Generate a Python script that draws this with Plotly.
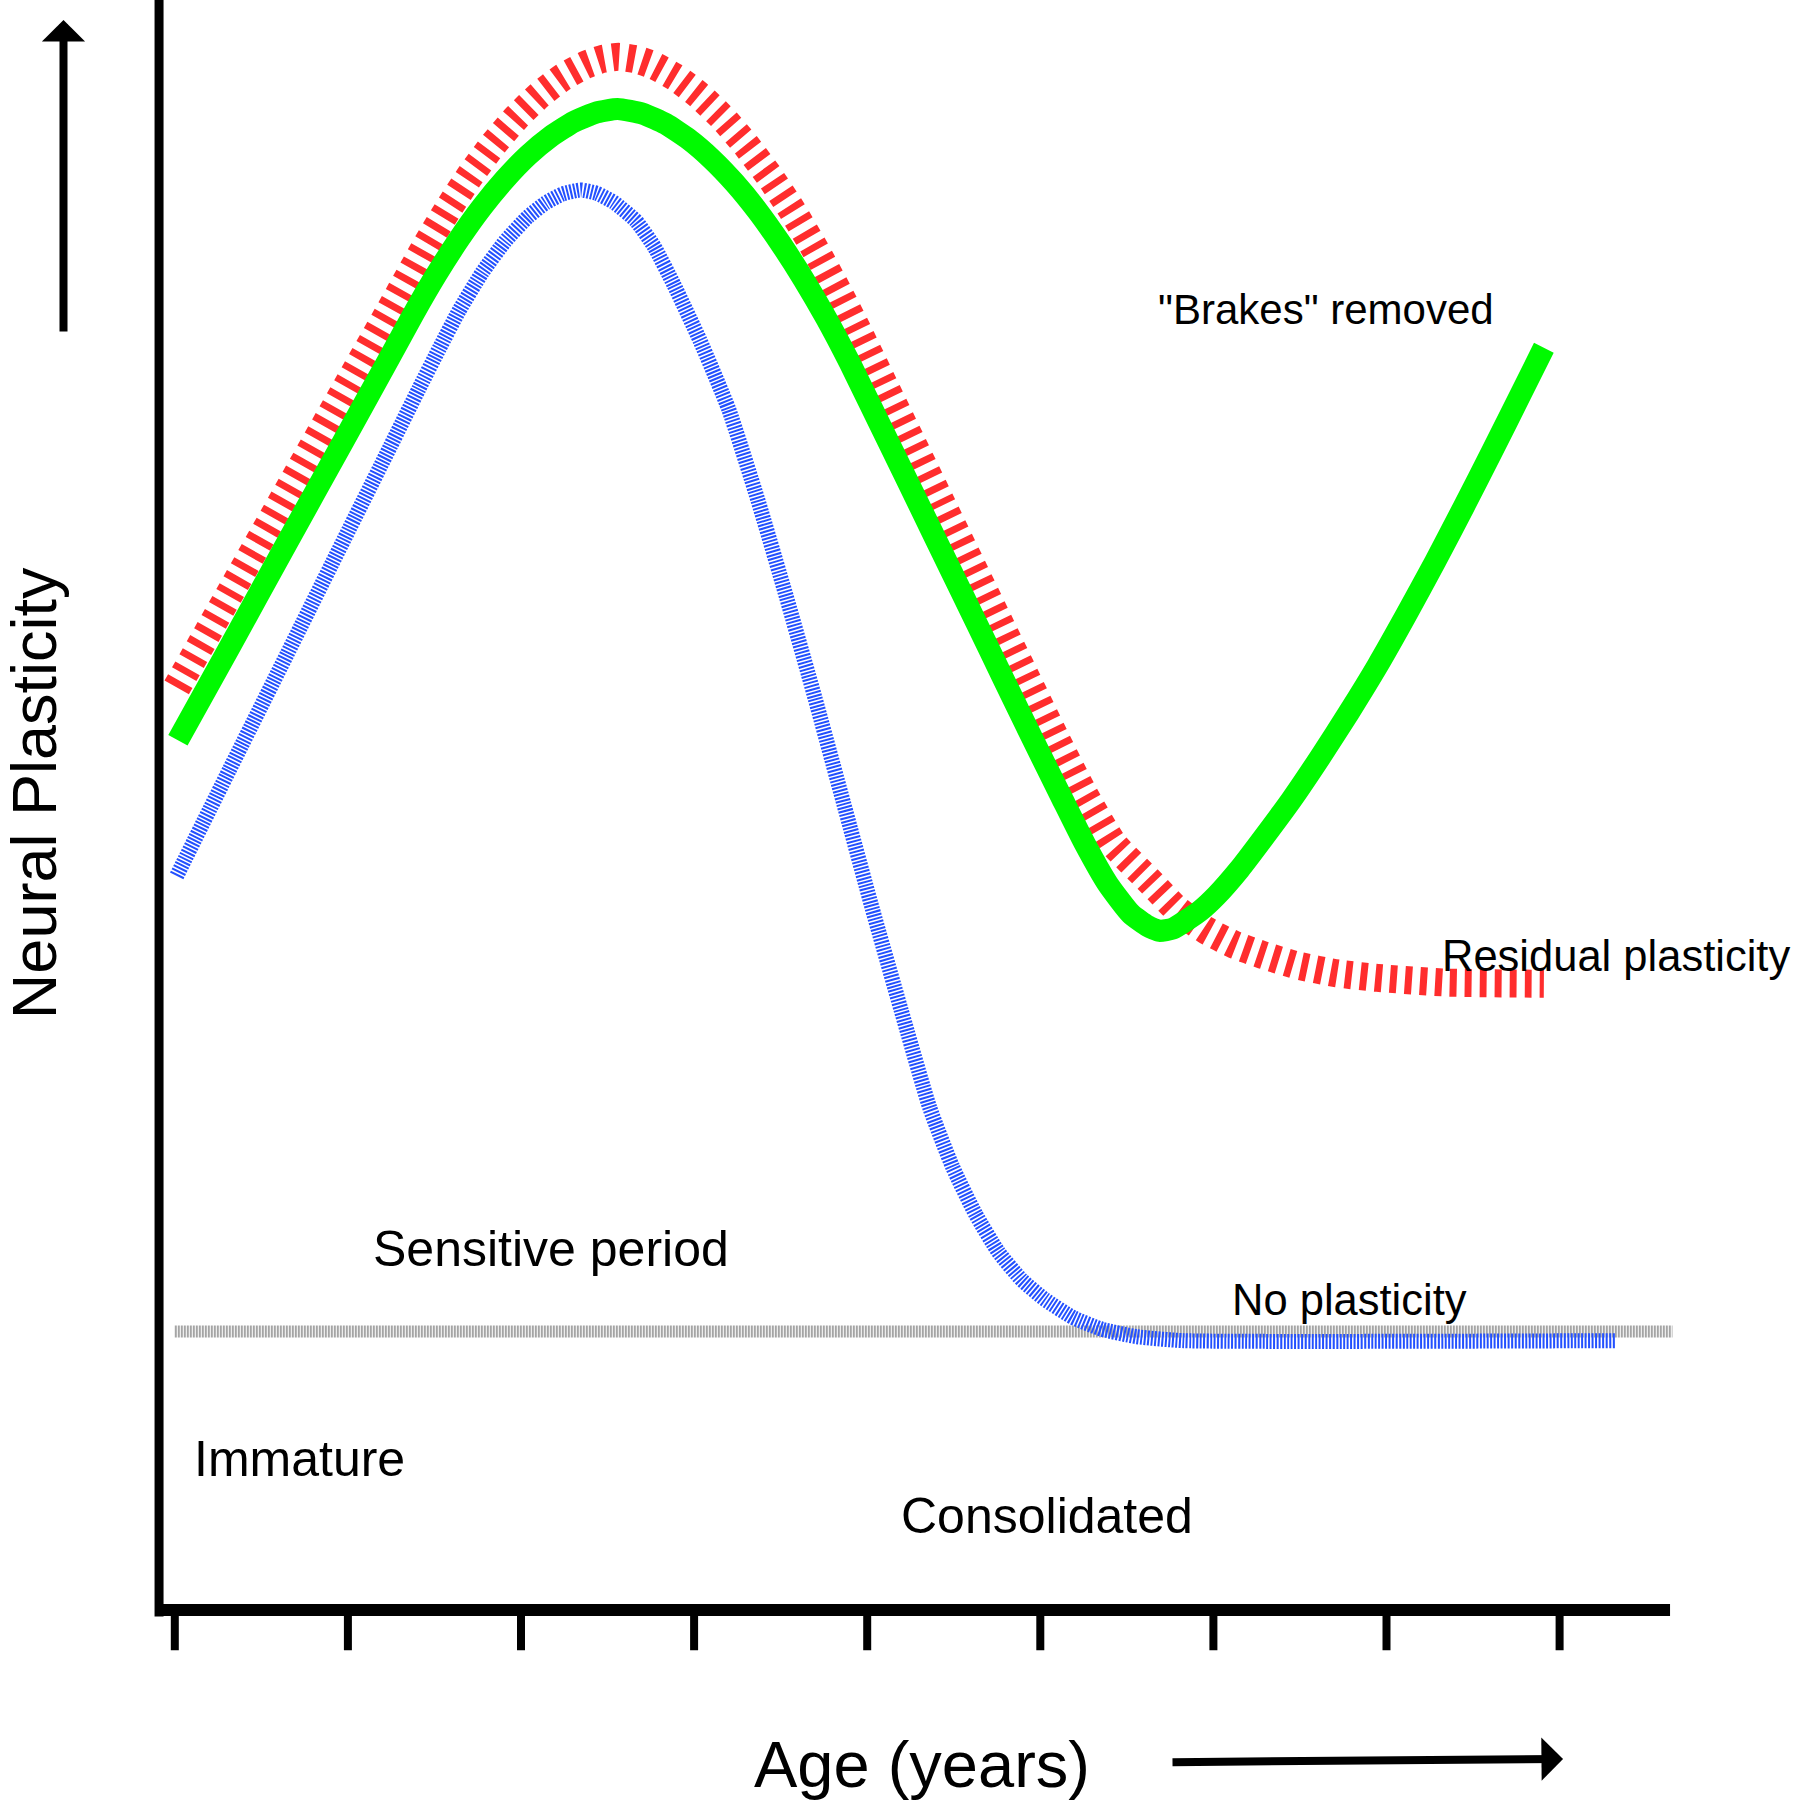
import plotly.graph_objects as go

# ---------------- data (age in tick units, plasticity in arbitrary units) ----------------
age_ticks = [0, 1, 2, 3, 4, 5, 6, 7, 8]

# "Residual plasticity" curve (red, dashed)
red_age = [0.011, 0.316, 0.648, 0.979, 1.245, 1.450, 1.576, 1.709, 1.842, 1.974, 2.107,
           2.239, 2.372, 2.472, 2.564, 2.670, 2.770, 2.903, 3.035, 3.168, 3.300, 3.433,
           3.566, 3.698, 3.831, 3.944, 4.096, 4.262, 4.428, 4.594, 4.759, 4.925, 5.091,
           5.257, 5.422, 5.621, 5.787, 5.953, 6.119, 6.284, 6.483, 6.716, 6.948, 7.346,
           7.909]
red_plast = [5.730, 6.310, 6.941, 7.572, 8.077, 8.472, 8.697, 8.914, 9.106, 9.271, 9.410,
             9.519, 9.597, 9.634, 9.647, 9.630, 9.592, 9.512, 9.402, 9.264, 9.099, 8.909,
             8.694, 8.454, 8.191, 7.950, 7.612, 7.245, 6.877, 6.510, 6.143, 5.776, 5.409,
             5.059, 4.760, 4.539, 4.354, 4.225, 4.133, 4.069, 4.004, 3.954, 3.926, 3.897,
             3.890]

# "Brakes removed" curve (green, solid)
green_age = [0.018, 0.316, 0.648, 0.979, 1.245, 1.377, 1.510, 1.643, 1.775, 1.908, 2.040,
             2.173, 2.306, 2.438, 2.558, 2.704, 2.836, 2.969, 3.101, 3.234, 3.367, 3.499,
             3.632, 3.765, 3.897, 4.129, 4.295, 4.461, 4.627, 4.792, 4.958, 5.124, 5.257,
             5.389, 5.522, 5.621, 5.688, 5.767, 5.853, 5.920, 6.019, 6.152, 6.284, 6.450,
             6.616, 6.782, 6.948, 7.113, 7.279, 7.445, 7.611, 7.777, 7.909]
green_plast = [5.402, 5.979, 6.628, 7.269, 7.787, 8.047, 8.293, 8.516, 8.714, 8.887, 9.034,
               9.153, 9.244, 9.302, 9.323, 9.294, 9.230, 9.135, 9.013, 8.864, 8.689, 8.489,
               8.266, 8.020, 7.751, 7.241, 6.874, 6.507, 6.140, 5.772, 5.405, 5.045, 4.760,
               4.511, 4.325, 4.247, 4.218, 4.233, 4.290, 4.340, 4.439, 4.603, 4.789, 5.031,
               5.295, 5.573, 5.865, 6.179, 6.507, 6.849, 7.198, 7.555, 7.840]

# "No plasticity" curve (blue, fine hatching)
blue_age = [0.011, 0.316, 0.648, 0.979, 1.245, 1.410, 1.530, 1.643, 1.775, 1.908, 2.040,
            2.140, 2.239, 2.346, 2.438, 2.538, 2.664, 2.770, 2.883, 3.035, 3.201, 3.367,
            3.533, 3.698, 3.864, 4.030, 4.196, 4.361, 4.494, 4.627, 4.759, 4.892, 5.025,
            5.190, 5.356, 5.555, 5.827, 8.327]
blue_plast = [4.560, 5.220, 5.936, 6.653, 7.227, 7.585, 7.840, 8.072, 8.306, 8.501, 8.653,
              8.738, 8.795, 8.820, 8.799, 8.742, 8.628, 8.467, 8.232, 7.883, 7.455, 6.899,
              6.293, 5.666, 5.010, 4.354, 3.726, 3.120, 2.750, 2.457, 2.222, 2.051, 1.930,
              1.816, 1.744, 1.698, 1.673, 1.673]

# reference level (gray)
gray_age = [0.0, 8.652]
gray_plast = [1.73, 1.73]

labels = ["Sensitive period", "Immature", "Consolidated", "No plasticity",
          "\"Brakes\" removed", "Residual plasticity"]
label_age = [2.173, 0.721, 5.037, 6.788, 6.649, 8.327]
label_plast = [2.24, 0.941, 0.583, 1.923, 8.075, 4.062]
label_size = [50, 50, 50, 43.5, 42, 43.5]

FONT = "Liberation Sans, Arial, Helvetica, sans-serif"

fig = go.Figure()

fig.add_trace(go.Scatter(x=gray_age, y=gray_plast, mode="lines",
                         line=dict(color="rgb(165,165,165)", width=12, dash="2px,1px"),
                         hoverinfo="skip"))
fig.add_trace(go.Scatter(x=blue_age, y=blue_plast, mode="lines",
                         line=dict(color="rgb(35,80,255)", width=15, dash="2px,1.5px",
                                   shape="spline", smoothing=0.5),
                         hoverinfo="skip"))
fig.add_trace(go.Scatter(x=red_age, y=red_plast, mode="lines",
                         line=dict(color="rgb(255,45,45)", width=28, dash="7px,8px",
                                   shape="spline", smoothing=0.5),
                         hoverinfo="skip"))
fig.add_trace(go.Scatter(x=green_age, y=green_plast, mode="lines",
                         line=dict(color="rgb(0,250,0)", width=22,
                                   shape="spline", smoothing=0.5),
                         hoverinfo="skip"))

shapes = []
# y axis line
shapes.append(dict(type="line", xref="x", yref="y", x0=-0.091, x1=-0.091, y0=-0.04, y1=10.2,
                   line=dict(color="black", width=9)))
# x axis line
shapes.append(dict(type="line", xref="x", yref="y", x0=-0.114, x1=8.638, y0=0, y1=0,
                   line=dict(color="black", width=12)))
# ticks
for t in age_ticks:
    shapes.append(dict(type="line", xref="x", yref="y", x0=t, x1=t, y0=0, y1=-0.25,
                       line=dict(color="black", width=8)))

annotations = []
for txt, xa, yp, fs in zip(labels, label_age, label_plast, label_size):
    annotations.append(dict(x=xa, y=yp, xref="x", yref="y", text=txt, showarrow=False,
                            xanchor="center", yanchor="middle",
                            font=dict(family=FONT, size=fs, color="black")))
# axis titles
annotations.append(dict(x=4.314, y=-0.958, xref="x", yref="y", text="Age (years)",
                        showarrow=False, xanchor="center", yanchor="middle",
                        font=dict(family=FONT, size=65, color="black")))
annotations.append(dict(x=-0.814, y=5.073, xref="x", yref="y", text="Neural Plasticity",
                        showarrow=False, xanchor="center", yanchor="middle", textangle=-90,
                        font=dict(family=FONT, size=63, color="black")))
# arrows
annotations.append(dict(x=-0.643, y=9.876, ax=-0.643, ay=7.932, xref="x", yref="y",
                        axref="x", ayref="y", text="", showarrow=True, arrowhead=1,
                        arrowsize=0.9, arrowwidth=8, arrowcolor="black"))
annotations.append(dict(x=8.020, y=-0.925, ax=5.755, ay=-0.945, xref="x", yref="y",
                        axref="x", ayref="y", text="", showarrow=True, arrowhead=1,
                        arrowsize=0.9, arrowwidth=8, arrowcolor="black"))

fig.update_layout(
    width=1794, height=1800, autosize=False,
    margin=dict(l=0, r=0, t=0, b=0, pad=0),
    paper_bgcolor="white", plot_bgcolor="white",
    showlegend=False,
    xaxis=dict(range=[-1.00982, 9.35413], visible=False, fixedrange=True),
    yaxis=dict(range=[-1.18012, 10.0], visible=False, fixedrange=True),
    shapes=shapes, annotations=annotations,
)

fig.write_html("out.html", config={"displayModeBar": False},
               post_script="document.body.style.margin='0';document.body.style.overflow='hidden';")
